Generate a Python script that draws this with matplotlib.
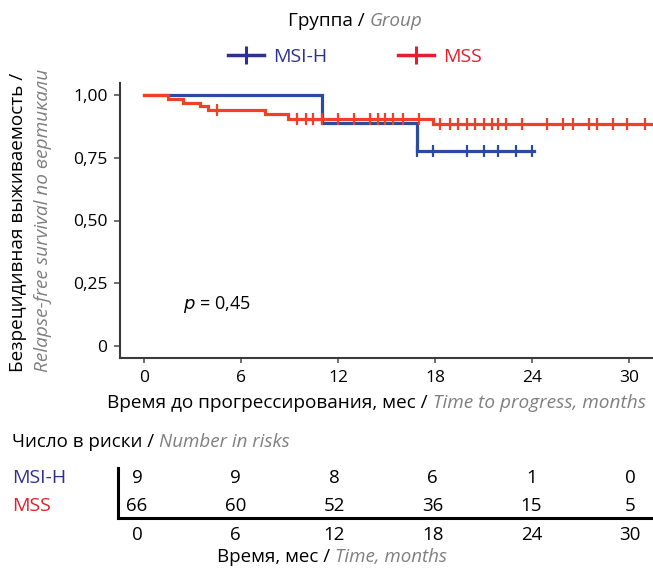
import numpy as np
import matplotlib
matplotlib.use("Agg")
import matplotlib.pyplot as plt
from matplotlib.lines import Line2D

plt.rcParams['font.family'] = ['Open Sans', 'DejaVu Sans']

# ---- data ----
groups = ["MSI-H", "MSS"]

# MSI-H: step times (months) and survival after each step
msi_times = [0, 11.0, 16.9]
msi_surv = [1.0, 0.889, 0.778]
msi_end = 24.1
msi_censor = [16.9, 17.9, 20.0, 21.0, 21.9, 23.0, 24.0]

# MSS
mss_times = [0, 1.5, 2.4, 3.45, 3.95, 7.5, 8.9, 17.9]
mss_surv = [1.0, 0.985, 0.97, 0.955, 0.94, 0.924, 0.905, 0.885]
mss_end = 31.5
mss_censor = [4.5, 9.45, 10.0, 10.45, 11.0, 12.0, 13.0, 14.0, 14.5, 14.9,
              15.4, 16.0, 17.0, 18.3, 18.9, 19.4, 20.0, 20.5, 21.0, 21.5,
              21.9, 22.4, 23.4, 24.9, 25.9, 26.5, 27.5, 28.0, 29.0, 29.9, 31.0]

risk_times = [0, 6, 12, 18, 24, 30]
risk_msi = [9, 9, 8, 6, 1, 0]
risk_mss = [66, 60, 52, 36, 15, 5]

p_text = "$\\it{p}$ = 0,45"

# ---- colours ----
blue_line = '#2b4c9e'
red_line = '#ef4127'
blue_txt = '#2e3192'
red_txt = '#e31e2d'
grey_txt = '#7f7f7f'

W, H = 653, 569
fig = plt.figure(figsize=(W / 100, H / 100), dpi=100)


def fx(px):
    return px / W


def fy(py):
    return 1 - py / H


# ---- main KM axes ----
ax = fig.add_axes([fx(120), fy(358), fx(653 - 120), (358 - 83) / H])


def step_curve(times, surv, end):
    xs = list(times) + [end]
    ys = list(surv) + [surv[-1]]
    return xs, ys


def level_at(times, surv, t):
    idx = np.searchsorted(times, t, side='right') - 1
    return surv[idx]


for times, surv, end, cens, col in [
        (msi_times, msi_surv, msi_end, msi_censor, blue_line),
        (mss_times, mss_surv, mss_end, mss_censor, red_line)]:
    xs, ys = step_curve(times, surv, end)
    ax.step(xs, ys, where='post', color=col, lw=2.3, solid_joinstyle='miter')
    cy = [level_at(times, surv, t) for t in cens]
    ax.plot(cens, cy, ls='none', marker='|', ms=8, mew=1.6, color=col)

ax.set_xlim((120 - 144) / 16.17, (653 - 144) / 16.17)
ax.set_ylim(-0.048, 1.048)
ax.set_xticks(risk_times)
ax.set_yticks([0, 0.25, 0.5, 0.75, 1.0])
ax.set_yticklabels(["0", "0,25", "0,50", "0,75", "1,00"])
ax.spines['top'].set_visible(False)
ax.spines['right'].set_visible(False)
for s in ['left', 'bottom']:
    ax.spines[s].set_linewidth(1.5)
    ax.spines[s].set_color('#3a3a3a')
ax.tick_params(axis='y', length=4, width=1.2, color='#555555', pad=5, labelsize=12.5)
ax.tick_params(axis='x', length=3.5, width=1.2, color='#555555', pad=5, labelsize=12.5)

ax.text((183 - 144) / 16.17, (346 - 305) / 251, p_text, fontsize=13,
        ha='left', va='center')

# ---- two-part (black + grey italic) labels ----
renderer = fig.canvas.get_renderer()


def two_part(x_px, y_px, black, grey, size):
    t1 = fig.text(fx(x_px), fy(y_px), black, fontsize=size, color='black',
                  ha='left', va='center')
    bb = t1.get_window_extent(renderer)
    gap = 0.28 * size * 100 / 72
    fig.text((bb.x1 + gap) / W, fy(y_px), grey, fontsize=size, color=grey_txt,
             style='italic', ha='left', va='center')


two_part(288, 21, "Группа /", "Group", 13.6)
two_part(107, 403, "Время до прогрессирования, мес /", "Time to progress, months", 13.7)
two_part(12, 442, "Число в риски /", "Number in risks", 13.5)
two_part(217, 557, "Время, мес /", "Time, months", 13.5)

# y label, two rotated lines
fig.text(fx(18), fy(222), "Безрецидивная выживаемость /", rotation=90,
         fontsize=13.7, ha='center', va='center')
fig.text(fx(43), fy(220), "Relapse-free survival по вертикали", rotation=90,
         fontsize=13.7, ha='center', va='center', style='italic', color=grey_txt)

# ---- legend ----
handles = [Line2D([], [], color=blue_txt, lw=2.5, marker='|', ms=13, mew=2.2),
           Line2D([], [], color=red_txt, lw=2.5, marker='|', ms=13, mew=2.2)]
leg = fig.legend(handles, groups, ncol=2, loc='center',
                 bbox_to_anchor=(fx(355), fy(57)), frameon=False,
                 fontsize=14, handlelength=1.85, handletextpad=0.5,
                 columnspacing=3.6, borderpad=0)
for txt, c in zip(leg.get_texts(), [blue_txt, red_txt]):
    txt.set_color(c)

# ---- risk table ----
tab = fig.add_axes([fx(118), fy(518), fx(653 - 118), 50 / H])
tab.set_xlim((118 - 137) / 16.43, (653 - 137) / 16.43)
tab.set_ylim(0, 1)
tab.spines['top'].set_visible(False)
tab.spines['right'].set_visible(False)
for s in ['left', 'bottom']:
    tab.spines[s].set_linewidth(2.2)
    tab.spines[s].set_color('black')
tab.set_yticks([])
tab.set_xticks(risk_times)
tab.tick_params(axis='x', length=0, pad=6, labelsize=13.5)
tab.patch.set_alpha(0)

trans = tab.get_xaxis_transform()
for t, a, b in zip(risk_times, risk_msi, risk_mss):
    tab.text(t, 0.8, str(a), transform=trans, ha='center', va='center', fontsize=13.5)
    tab.text(t, 0.24, str(b), transform=trans, ha='center', va='center', fontsize=13.5)

fig.text(fx(12), fy(478), groups[0], color=blue_txt, fontsize=14, ha='left', va='center')
fig.text(fx(12), fy(506), groups[1], color=red_txt, fontsize=14, ha='left', va='center')

fig.savefig("out.png", dpi=100)
